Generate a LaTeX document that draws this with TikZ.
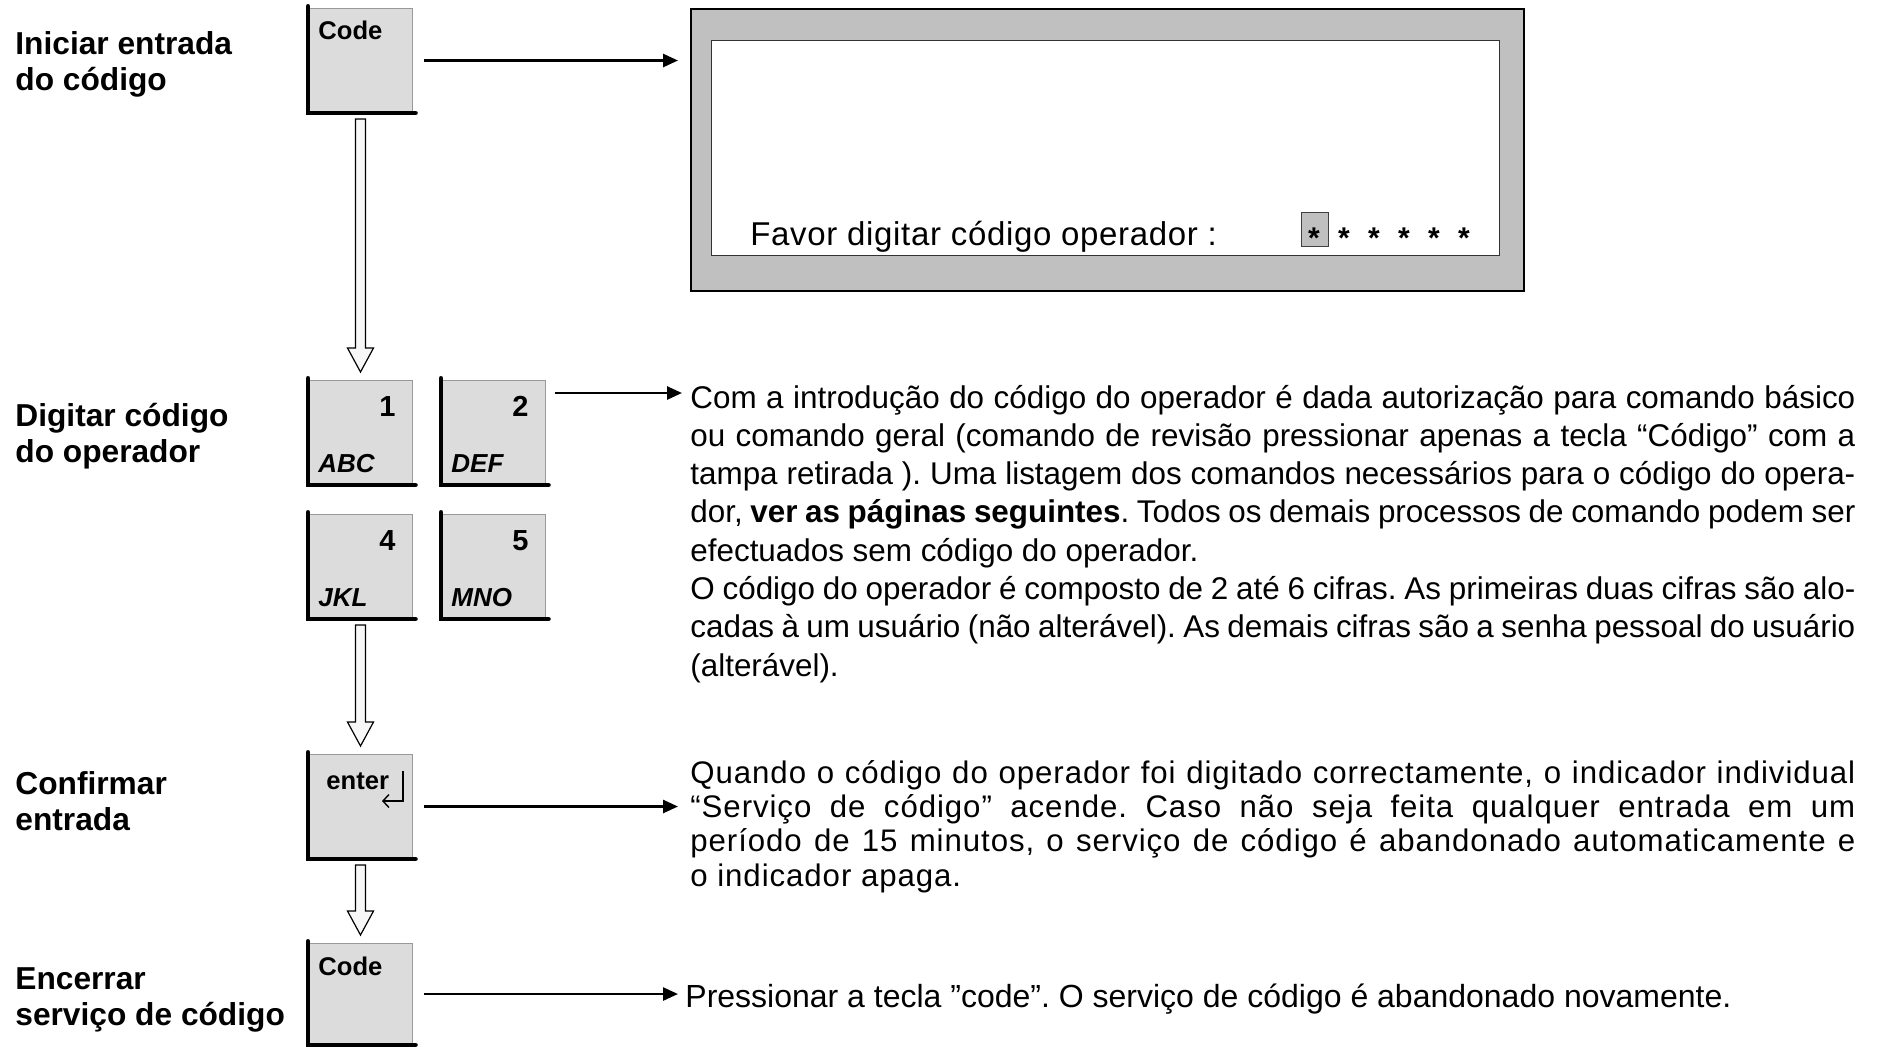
\documentclass[tikz,border=0pt]{standalone}
\usepackage{fontspec}
\setmainfont{Liberation Sans}
\newfontfamily\spacedfont[LetterSpace=3]{Liberation Sans}
\newfontfamily\dispfont[LetterSpace=2]{Liberation Sans}
\usetikzlibrary{arrows.meta,calc}
\definecolor{keygray}{RGB}{220,220,220}
\definecolor{dispgray}{RGB}{192,192,192}
\frenchspacing
\tikzset{
  keybox/.style={draw=gray!80, line width=0.5pt, fill=keygray, minimum width=52pt, minimum height=52pt, inner sep=0pt, anchor=north west},
  keyedge/.style={line width=2.4pt, line cap=round, line join=miter},
  keytxt/.style={inner sep=0pt, font=\bfseries\fontsize{12.8pt}{14pt}\selectfont},
  keydigit/.style={inner sep=0pt, anchor=base east, font=\bfseries\fontsize{14.5pt}{15pt}\selectfont},
  keyletters/.style={inner sep=0pt, anchor=base west, font=\bfseries\itshape\fontsize{13pt}{14pt}\selectfont},
  lbl/.style={inner sep=0pt, anchor=base west, font=\bfseries\fontsize{15.85pt}{18pt}\selectfont},
  conn/.style={line width=1.3pt, -{Triangle[length=7.5pt,width=6.5pt]}},
  hollowarr/.style={draw=black, line width=0.6pt, fill=gray!6, line join=miter},
  asterisk/.style={inner sep=0pt, anchor=base, font=\bfseries\fontsize{15pt}{16pt}\selectfont},
  para/.style={inner sep=0pt, anchor=base west},
}
\newcommand\keyframe[1]{\draw[keyedge] ([yshift=0.8pt]#1.north west) -- (#1.south west) -- ([xshift=1.2pt]#1.south east);}
\newcommand\hollowarrow[2]{%
  \draw[hollowarr] ($(#1.south)+(-5,6)$) -- ($(#1.south)+(5,6)$) -- ($(#2.north)+(5,-32)$) -- ($(#2.north)+(13,-32)$) -- ($(#2.north)+(0,-8)$) -- ($(#2.north)+(-13,-32)$) -- ($(#2.north)+(-5,-32)$) -- cycle;}
\begin{document}
\begin{tikzpicture}[x=0.5pt, y=-0.5pt]
\useasboundingbox (0,0) rectangle (1877,1046);

% left labels
\node[lbl] (l1) at (15,54) {\parbox[t]{150pt}{\raggedright Iniciar entrada\\do código}};
\node[lbl] (l2) at (15,426) {\parbox[t]{150pt}{\raggedright Digitar código\\do operador}};
\node[lbl] (l3) at (15,794) {\parbox[t]{150pt}{\raggedright Confirmar\\entrada}};
\node[lbl] (l4) at (15,989) {\parbox[t]{150pt}{\raggedright Encerrar\\serviço de código}};

% keys
\node[keybox] (kc) at (308,8) {};
\node[keybox] (k1) at (308,380) {};
\node[keybox] (k2) at (441,380) {};
\node[keybox] (k4) at (308,514) {};
\node[keybox] (k5) at (441,514) {};
\node[keybox] (ke) at (308,754) {};
\node[keybox, minimum height=50.5pt] (kc2) at (308,943) {};
\foreach \k in {kc,k1,k2,k4,k5,ke,kc2} {\keyframe{\k}}

\node[keytxt, anchor=base west] (tc) at ($(kc.north west)+(10,31)$) {Code};
\node[keytxt, anchor=base west] (tc2) at ($(kc2.north west)+(10,32)$) {Code};
\node[keytxt, anchor=base west] (te) at ($(ke.north west)+(18,35)$) {enter};
\draw[line width=0.7pt, -{Straight Barb[length=3pt,width=6.5pt]}] ($(ke.north west)+(95,17)$) coordinate (ent1) -- ($(ke.north west)+(95,47)$) coordinate (ent2) -- ($(ke.north west)+(74,47)$) coordinate (ent3);

\node[keydigit] (d1) at ($(k1.north east)+(-17,36)$) {1};
\node[keydigit] (d2) at ($(k2.north east)+(-17,36)$) {2};
\node[keydigit] (d4) at ($(k4.north east)+(-17,36)$) {4};
\node[keydigit] (d5) at ($(k5.north east)+(-17,36)$) {5};
\node[keyletters] (s1) at ($(k1.north west)+(10,92)$) {ABC};
\node[keyletters] (s2) at ($(k2.north west)+(10,92)$) {DEF};
\node[keyletters] (s4) at ($(k4.north west)+(10,92)$) {JKL};
\node[keyletters] (s5) at ($(k5.north west)+(10,92)$) {MNO};

% hollow arrows
\hollowarrow{kc}{k1}
\hollowarrow{k4}{ke}
\hollowarrow{ke}{kc2}

% display
\node[draw=black, line width=1.1pt, fill=dispgray, anchor=north west, inner sep=0pt, minimum width=416.5pt, minimum height=141pt] (disp) at (690,8) {};
\node[draw=black!80, line width=0.6pt, fill=white, anchor=north west, inner sep=0pt, minimum width=394pt, minimum height=107.5pt] (scr) at (711,40) {};
\node[para, font=\dispfont\fontsize{16.5pt}{19pt}\selectfont] (prompt) at (750,245) {Favor digitar código operador :};
\node[draw=black!75, line width=0.7pt, fill=dispgray, anchor=north west, inner sep=0pt, minimum width=13.5pt, minimum height=17pt] (cur) at (1301,212) {};
\foreach \i in {1,...,6} {\node[asterisk] (ast\i) at ({1314+30*(\i-1)},248) {*};}

% paragraphs
\node[para] (p1) at (690,408) {\parbox[t]{582.5pt}{\fontsize{15.7pt}{19.15pt}\selectfont\hyphenpenalty=10000\tolerance=10000
Com a introdução do código do operador é dada autorização para comando básico\linebreak
ou comando geral (comando de revisão pressionar apenas a tecla “Código” com a\linebreak
tampa retirada ). Uma listagem dos comandos necessários para o código do opera-\linebreak
dor, \textbf{ver as páginas seguintes}. Todos os demais processos de comando podem ser\linebreak
efectuados sem código do operador.\par
O código do operador é composto de 2 até 6 cifras. As primeiras duas cifras são alo-\linebreak
cadas à um usuário (não alterável). As demais cifras são a senha pessoal do usuário\linebreak
(alterável).}};

\node[para] (p2) at (690,783) {\parbox[t]{582.5pt}{\spacedfont\fontsize{15.6pt}{17.2pt}\selectfont\hyphenpenalty=10000\tolerance=10000
Quando o código do operador foi digitado correctamente, o indicador individual\linebreak
“Serviço de código” acende. Caso não seja feita qualquer entrada em um\linebreak
período de 15 minutos, o serviço de código é abandonado automaticamente e\linebreak
o indicador apaga.}};

\node[para, font=\fontsize{16pt}{19pt}\selectfont] (p3) at (685,1007) {Pressionar a tecla ”code”. O serviço de código é abandonado novamente.};

% connectors
\coordinate (a2s) at ($(k2.north east)+(9,13)$);
\draw[conn, shorten <=5.5pt, shorten >=6pt] (kc.east) -- (kc.east -| disp.west);
\draw[conn, shorten >=4pt] (a2s) -- (a2s -| p1.west);
\draw[conn, shorten <=5.5pt, shorten >=6pt] (ke.east) -- (ke.east -| p2.west);
\draw[conn, shorten <=5.5pt, shorten >=3.5pt] (kc2.east) -- (kc2.east -| p3.west);
\end{tikzpicture}
\end{document}
